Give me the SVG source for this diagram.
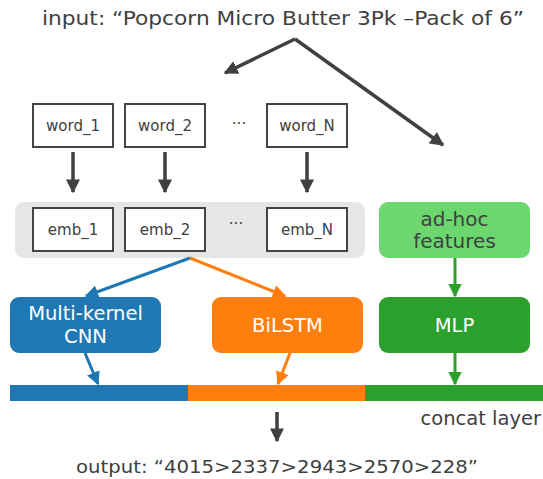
<svg xmlns="http://www.w3.org/2000/svg" width="543" height="479" viewBox="0 0 543 479">
<defs>
<style>
text{font-family:"DejaVu Sans","Noto Sans",sans-serif;fill:#404040;text-anchor:middle}
.big{font-size:19px}
.sm{font-size:15px}
.w{fill:#fff;font-size:19.5px}
.box{fill:#fff;stroke:#444;stroke-width:2}
.dk{stroke:#404040;stroke-width:3.5;fill:none}
</style>
<marker id="ad" viewBox="0 0 10 10" refX="9" refY="5" markerWidth="4" markerHeight="4" orient="auto" markerUnits="strokeWidth"><path d="M0,0L10,5L0,10z" fill="#404040"/></marker>
<marker id="ab" viewBox="0 0 10 10" refX="9" refY="5" markerWidth="4.5" markerHeight="4.5" orient="auto" markerUnits="strokeWidth"><path d="M0,0L10,5L0,10z" fill="#1f77b4"/></marker>
<marker id="ao" viewBox="0 0 10 10" refX="9" refY="5" markerWidth="4.5" markerHeight="4.5" orient="auto" markerUnits="strokeWidth"><path d="M0,0L10,5L0,10z" fill="#ff7f0e"/></marker>
<marker id="ag" viewBox="0 0 10 10" refX="9" refY="5" markerWidth="4.5" markerHeight="4.5" orient="auto" markerUnits="strokeWidth"><path d="M0,0L10,5L0,10z" fill="#2ca02c"/></marker>
</defs>
<rect width="543" height="479" fill="#fff"/>
<text id="input" class="big" x="283" y="25" textLength="482" lengthAdjust="spacingAndGlyphs">input: “Popcorn Micro Butter 3Pk –Pack of 6”</text>

<rect id="embbar" x="15" y="202" width="350" height="56" rx="9" fill="#e6e6e6"/>

<g id="word_1"><rect class="box" x="33" y="104" width="80" height="43"/><text class="sm" x="73" y="131">word_1</text></g>
<g id="word_2"><rect class="box" x="125" y="104" width="80" height="43"/><text class="sm" x="165" y="131">word_2</text></g>
<text x="239" y="129" class="sm">···</text>
<g id="word_N"><rect class="box" x="267" y="104" width="80" height="43"/><text class="sm" x="307" y="131">word_N</text></g>

<g id="emb_1"><rect class="box" x="33" y="208" width="80" height="43"/><text class="sm" x="73" y="235">emb_1</text></g>
<g id="emb_2"><rect class="box" x="125" y="208" width="80" height="43"/><text class="sm" x="165" y="235">emb_2</text></g>
<text x="236" y="229" class="sm">···</text>
<g id="emb_N"><rect class="box" x="267" y="208" width="80" height="43"/><text class="sm" x="307" y="235">emb_N</text></g>

<g id="adhoc"><rect x="379" y="202" width="151" height="56" rx="9" fill="#6cd66f"/><text x="454.5" y="226" style="font-size:20px">ad-hoc</text><text x="454.5" y="248" style="font-size:20px">features</text></g>

<g id="cnn"><rect x="10" y="297" width="151" height="56" rx="9" fill="#1f77b4"/><text class="w" x="85.5" y="320">Multi-kernel</text><text class="w" x="85.5" y="343">CNN</text></g>
<g id="bilstm"><rect x="212" y="297" width="151" height="56" rx="9" fill="#ff7f0e"/><text class="w" x="287.5" y="332">BiLSTM</text></g>
<g id="mlp"><rect x="379" y="297" width="151" height="56" rx="9" fill="#2ca02c"/><text class="w" x="454.5" y="332">MLP</text></g>

<g id="concat">
<rect x="10" y="385" width="178" height="16" fill="#1f77b4"/>
<rect x="188" y="385" width="177" height="16" fill="#ff7f0e"/>
<rect x="365" y="385" width="178" height="16" fill="#2ca02c"/>
<text x="541" y="425" style="text-anchor:end;font-size:19.5px">concat layer</text>
</g>

<text id="output" x="277" y="473" textLength="402" lengthAdjust="spacingAndGlyphs" style="font-size:18.5px">output: “4015&gt;2337&gt;2943&gt;2570&gt;228”</text>

<g id="connectors">
<line class="dk" x1="295" y1="39" x2="225" y2="73" marker-end="url(#ad)"/>
<line class="dk" x1="295" y1="39" x2="443" y2="145" marker-end="url(#ad)"/>
<line class="dk" x1="73" y1="152" x2="73" y2="192" marker-end="url(#ad)"/>
<line class="dk" x1="165" y1="152" x2="165" y2="192" marker-end="url(#ad)"/>
<line class="dk" x1="307" y1="152" x2="307" y2="192" marker-end="url(#ad)"/>
<line x1="190" y1="258" x2="86" y2="296" stroke="#1f77b4" stroke-width="3" marker-end="url(#ab)"/>
<line x1="190" y1="258" x2="285" y2="296" stroke="#ff7f0e" stroke-width="3" marker-end="url(#ao)"/>
<line x1="455" y1="258" x2="455" y2="296" stroke="#2ca02c" stroke-width="3" marker-end="url(#ag)"/>
<line x1="85" y1="353" x2="98" y2="384" stroke="#1f77b4" stroke-width="3" marker-end="url(#ab)"/>
<line x1="290" y1="353" x2="278" y2="384" stroke="#ff7f0e" stroke-width="3" marker-end="url(#ao)"/>
<line x1="455" y1="353" x2="455" y2="384" stroke="#2ca02c" stroke-width="3" marker-end="url(#ag)"/>
<line class="dk" x1="277" y1="412" x2="277" y2="441" marker-end="url(#ad)"/>
</g>
</svg>
